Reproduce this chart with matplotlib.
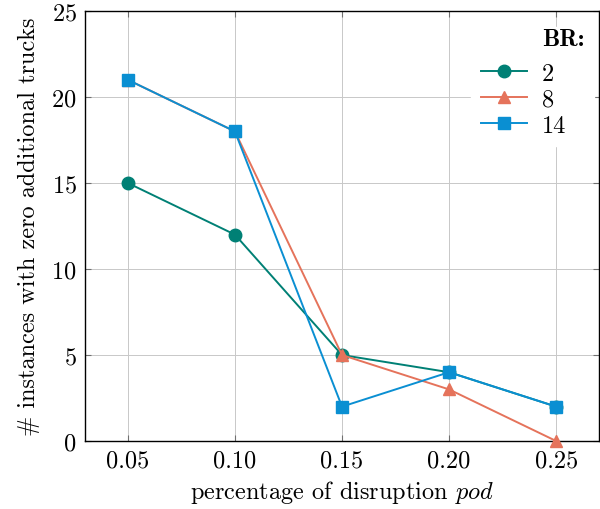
import matplotlib
matplotlib.use("Agg")
import matplotlib.pyplot as plt
from matplotlib.lines import Line2D

plt.rcParams['font.family'] = ['cmr10', 'DejaVu Serif']
plt.rcParams['mathtext.fontset'] = 'cm'
plt.rcParams['axes.formatter.use_mathtext'] = True

# data
pod = [0.05, 0.10, 0.15, 0.20, 0.25]
br_labels = ['2', '8', '14']
br2 = [15, 12, 5, 4, 2]
br8 = [21, 18, 5, 3, 0]
br14 = [21, 18, 2, 4, 2]
xticks = [0.05, 0.10, 0.15, 0.20, 0.25]
xticklabels = ['0.05', '0.10', '0.15', '0.20', '0.25']
yticks = [0, 5, 10, 15, 20, 25]

colors = ['#008075', '#e5735b', '#0a8fd2']
markers = ['o', '^', 's']
fs = 17.5

fig = plt.figure(figsize=(6, 5.1), dpi=100)
ax = fig.add_axes([0.1417, 0.1333, 0.8566, 0.8431])

for ys, lab, c, m in zip([br2, br8, br14], br_labels, colors, markers):
    ax.plot(pod, ys, color=c, marker=m, markersize=9, linewidth=1.4,
            label=lab, clip_on=False, zorder=3)

ax.set_xlim(0.03, 0.27)
ax.set_ylim(0, 25)
ax.set_xticks(xticks)
ax.set_xticklabels(xticklabels)
ax.set_yticks(yticks)
ax.grid(True, color='#c8c8c8', linewidth=0.7)
ax.tick_params(direction='in', top=True, right=True, length=4,
               color='#707070', labelsize=fs, pad=6)
for s in ax.spines.values():
    s.set_linewidth(1.0)
    s.set_color('black')

ax.set_xlabel(r'percentage of disruption $\mathit{pod}$', fontsize=fs, labelpad=5)
ax.set_ylabel('# instances with zero additional trucks', fontsize=fs, labelpad=8)

# legend with a bold "BR:" header row
handles, labels = ax.get_legend_handles_labels()
title_handle = Line2D([], [], linestyle='none')
leg = ax.legend([title_handle] + handles, ['BR:'] + labels,
                loc='upper right', bbox_to_anchor=(1.014, 0.99),
                frameon=True, fancybox=False, edgecolor='white',
                facecolor='white', framealpha=1.0, fontsize=fs,
                handlelength=1.9, handletextpad=0.6, labelspacing=0.15,
                borderpad=0.4)
hdr = leg.get_texts()[0]
hdr.set_fontfamily('cmb10')
hdr.set_y(9)
leg.set_zorder(5)

fig.savefig('out.png', dpi=100)
